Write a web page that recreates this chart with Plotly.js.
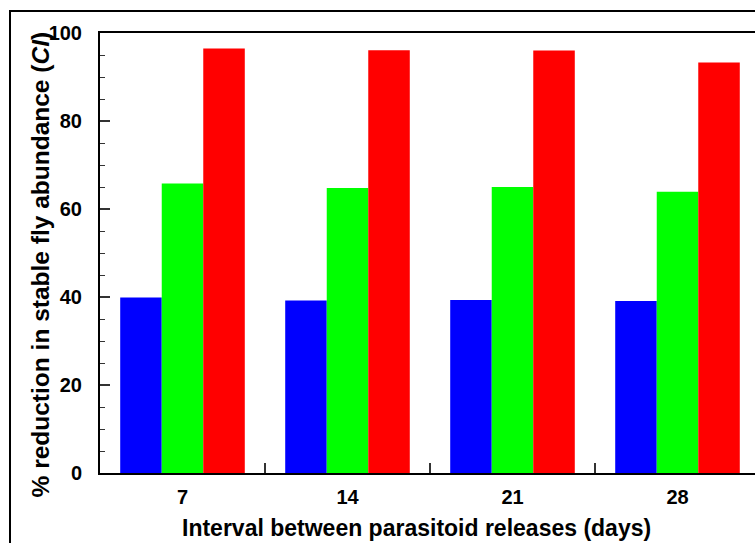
<!DOCTYPE html>
<html>
<head>
<meta charset="utf-8">
<script src="https://cdn.plot.ly/plotly-3.0.1.min.js"></script>
<style>
html,body{margin:0;padding:0;width:755px;height:543px;overflow:hidden;background:#fff;}
#frame{position:absolute;left:9px;top:10px;width:900px;height:700px;border:2px solid #000;pointer-events:none;z-index:5;}
#chart{position:absolute;left:0;top:0;}
</style>
</head>
<body>
<div id="chart"></div>
<div id="frame"></div>
<script>
const categories = ['7', '14', '21', '28'];
const seriesBlue = [39.9, 39.2, 39.3, 39.1];
const seriesGreen = [65.8, 64.8, 65.0, 63.9];
const seriesRed = [96.5, 96.1, 96.0, 93.3];
const yTicks = [0, 20, 40, 60, 80, 100];
const xTitle = 'Interval between parasitoid releases (days)';
const yTitle = '% reduction in stable fly abundance (<i>CI</i>)';

const font = {family: 'Liberation Sans, Arial, sans-serif', color: '#000'};

const mk = (y, color, name) => ({
  type: 'bar', x: categories, y: y, name: name,
  marker: {color: color, line: {width: 0}},
  showlegend: false, hoverinfo: 'none'
});

const data = [
  mk(seriesBlue, '#0000ff', 'blue'),
  mk(seriesGreen, '#00ff00', 'green'),
  mk(seriesRed, '#ff0000', 'red')
];

const layout = {
  width: 770, height: 543,
  margin: {l: 100, r: 10, t: 33, b: 70, pad: 0},
  paper_bgcolor: '#fff', plot_bgcolor: '#fff',
  barmode: 'group', bargap: 0.245, bargroupgap: 0,
  font: font,
  xaxis: {
    type: 'category',
    tickson: 'boundaries',
    ticks: 'inside', ticklen: 10, tickwidth: 1.5, tickcolor: '#333',
    showline: true, linewidth: 2, linecolor: '#000', mirror: true,
    showgrid: false, zeroline: false,
    tickfont: {family: font.family, size: 20, weight: 'bold', color: '#000'},
    ticklabelstandoff: 5,
    automargin: false
  },
  yaxis: {
    range: [0, 100], tickvals: yTicks,
    ticks: 'inside', ticklen: 10, tickwidth: 1.5, tickcolor: '#333',
    minor: {dtick: 5, ticks: 'inside', ticklen: 5, tickwidth: 1, tickcolor: '#333', showgrid: false},
    showline: true, linewidth: 2, linecolor: '#000', mirror: true,
    showgrid: false, zeroline: false,
    tickfont: {family: font.family, size: 20, weight: 'bold', color: '#000'},
    ticklabelstandoff: 12,
    automargin: false
  },
  annotations: [
    {text: xTitle, xref: 'paper', yref: 'paper', x: 0.48, y: 0, yshift: -55,
     xanchor: 'center', yanchor: 'middle', showarrow: false,
     font: {family: font.family, size: 23, weight: 'bold', color: '#000'}},
    {text: yTitle, xref: 'paper', yref: 'paper', x: 0, xshift: -60, y: 0.474,
     xanchor: 'center', yanchor: 'middle', textangle: -90, showarrow: false,
     font: {family: font.family, size: 24.5, weight: 'bold', color: '#000'}}
  ]
};

Plotly.newPlot('chart', data, layout, {staticPlot: true, displayModeBar: false});
</script>
</body>
</html>
